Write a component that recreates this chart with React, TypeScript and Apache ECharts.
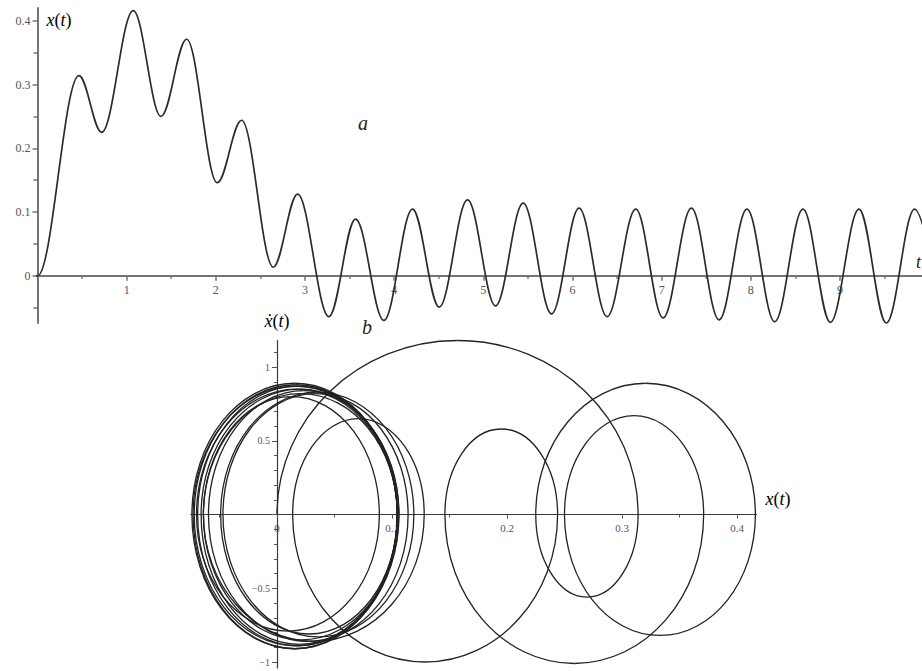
import React, { useEffect, useRef } from 'react';
import * as echarts from 'echarts';

// Panel a: successive extrema of x(t) (first entry = rest state before t = 0)
const tExtrema = [-0.5, 0, 0.465, 0.72, 1.074, 1.385, 1.673, 2.016, 2.289, 2.644, 2.917, 3.268, 3.567, 3.885, 4.206, 4.505, 4.823, 5.137, 5.447, 5.765, 6.074, 6.388, 6.71, 7.016, 7.334, 7.644, 7.957, 8.268, 8.585, 8.892, 9.213, 9.52, 9.837, 10.15];
const xExtrema = [0, 0, 0.314, 0.225, 0.416, 0.25, 0.371, 0.146, 0.244, 0.0136, 0.128, -0.064, 0.089, -0.07, 0.1046, -0.049, 0.119, -0.047, 0.114, -0.0596, 0.106, -0.064, 0.1046, -0.066, 0.106, -0.069, 0.1046, -0.072, 0.1046, -0.073, 0.1046, -0.074, 0.1046, -0.075];

// Panel b: peak velocity of each half-loop between consecutive extrema (from t = 0)
const vPeaks = [1.18, -0.56, 0.89, -0.82, 0.67, -1.01, 0.58, -1.0, 0.65, -0.86, 0.8, -0.79, 0.85, -0.81, 0.83, -0.83, 0.82, -0.86, 0.84, -0.85, 0.82, -0.88, 0.85, -0.89, 0.87, -0.89, 0.88, -0.91, 0.87, -0.91, 0.89];

// Tick labels
const tTicks = [1, 2, 3, 4, 5, 6, 7, 8, 9];
const xTicksA = [0, 0.1, 0.2, 0.3, 0.4];
const phaseXTicks = [0, 0.1, 0.2, 0.3, 0.4];
const phaseYLabels = [-1, -0.5, 0.5, 1];
const phaseYTicks = [-1, -0.5, 0, 0.5, 1];

const SERIF = "'Liberation Serif', 'DejaVu Serif', 'Times New Roman', serif";
const fmt = (v: number) => String(v).replace('-', '\u2212');

export default function App() {
  const ref = useRef<HTMLDivElement>(null);
  useEffect(() => {
    const chart = echarts.init(ref.current as HTMLDivElement, null, { renderer: 'svg' });
    const timeData = tExtrema.map((t, i) => [t, xExtrema[i]]);
    const loops = vPeaks.map((v, i) => [xExtrema[i + 1], xExtrema[i + 2], v]);

    const axisA = { color: '#747474', width: 2 };
    const axisB = { color: '#3a3a3a', width: 1.2 };
    const labelA = { fontFamily: SERIF, fontSize: 12, color: '#555' };
    const labelB = { fontFamily: SERIF, fontSize: 10, color: '#555' };

    const rich = {
      i: { fontFamily: SERIF, fontStyle: 'italic', fontSize: 18, color: '#222' },
      n: { fontFamily: SERIF, fontSize: 18, color: '#222' },
    };

    // grid geometry (layout only)
    const gA = { left: 37.5, top: 8, width: 884.5, height: 315 };
    const gB = { left: 190.75, top: 340.5, width: 565.8, height: 327.4 };
    const yMinA = -0.074, yMaxA = 0.42;
    const xMinB = -0.075, xMaxB = 0.417;
    const yMinB = -1.04, yMaxB = 1.18;
    // offsets so the axes cross at zero
    const offXA = -(gA.height * (0 - yMinA)) / (yMaxA - yMinA);
    const offXB = -(gB.height * (0 - yMinB)) / (yMaxB - yMinB);
    const offYB = -(gB.width * (0 - xMinB)) / (xMaxB - xMinB);

    const option: any = {
      animation: false,
      backgroundColor: '#fff',
      grid: [gA, gB],
      xAxis: [
        {
          gridIndex: 0, type: 'value', min: 0, max: 9.92, interval: 1, position: 'bottom', offset: offXA,
          axisLine: { onZero: false, lineStyle: axisA },
          axisTick: { customValues: tTicks, length: 5, lineStyle: { color: '#747474', width: 1.5 } },
          minorTick: { show: true, splitNumber: 2, length: 3, lineStyle: { color: '#747474', width: 1.5 } },
          axisLabel: { customValues: tTicks, margin: 8, ...labelA },
          splitLine: { show: false },
        },
        {
          gridIndex: 1, type: 'value', min: xMinB, max: xMaxB, position: 'bottom', offset: offXB,
          axisLine: { onZero: false, lineStyle: axisB },
          axisTick: { customValues: phaseXTicks, length: 4, lineStyle: { color: '#555', width: 1 } },
          minorTick: { show: true, splitNumber: 2, length: 3, lineStyle: { color: '#555', width: 1 } },
          axisLabel: { customValues: phaseXTicks, margin: 8, ...labelB, fontSize: 11, formatter: fmt },
          splitLine: { show: false },
        },
      ],
      yAxis: [
        {
          gridIndex: 0, type: 'value', min: yMinA, max: yMaxA, position: 'left',
          axisLine: { onZero: false, lineStyle: axisA },
          axisTick: { customValues: xTicksA, length: 5, lineStyle: { color: '#747474', width: 1.5 } },
          minorTick: { show: true, splitNumber: 2, length: 4, lineStyle: { color: '#747474', width: 1.5 } },
          axisLabel: { customValues: xTicksA, margin: 7, ...labelA },
          splitLine: { show: false },
        },
        {
          gridIndex: 1, type: 'value', min: yMinB, max: yMaxB, position: 'left', offset: offYB,
          axisLine: { onZero: false, lineStyle: axisB },
          axisTick: { customValues: phaseYTicks, length: 5, lineStyle: { color: '#555', width: 1 } },
          minorTick: { show: true, splitNumber: 5, length: 3, lineStyle: { color: '#555', width: 1 } },
          axisLabel: { customValues: phaseYLabels, margin: 7, ...labelB, formatter: fmt },
          splitLine: { show: false },
        },
      ],
      series: [
        {
          type: 'line', xAxisIndex: 0, yAxisIndex: 0,
          data: timeData, smooth: 0.36, smoothMonotone: 'x',
          showSymbol: false, symbol: 'none', clip: true,
          lineStyle: { color: '#2b2b2b', width: 1.7 }, z: 3,
        },
        {
          type: 'custom', coordinateSystem: 'cartesian2d', xAxisIndex: 1, yAxisIndex: 1,
          data: loops, encode: { x: [0, 1], y: 2 }, z: 3,
          renderItem: (params: any, api: any) => {
            const x0 = api.value(0), x1 = api.value(1), v = api.value(2);
            const a = api.coord([x0, 0]);
            const m = api.coord([(x0 + x1) / 2, v]);
            const b = api.coord([x1, 0]);
            const k = 0.5523;
            const style = { stroke: '#222', lineWidth: 1.3, fill: 'none' };
            return {
              type: 'group',
              children: [
                {
                  type: 'bezierCurve',
                  shape: { x1: a[0], y1: a[1], x2: m[0], y2: m[1], cpx1: a[0], cpy1: a[1] + k * (m[1] - a[1]), cpx2: m[0] - k * (m[0] - a[0]), cpy2: m[1] },
                  style,
                },
                {
                  type: 'bezierCurve',
                  shape: { x1: m[0], y1: m[1], x2: b[0], y2: b[1], cpx1: m[0] + k * (b[0] - m[0]), cpy1: m[1], cpx2: b[0], cpy2: b[1] + k * (m[1] - b[1]) },
                  style,
                },
              ],
            };
          },
        },
      ],
      graphic: [
        { type: 'text', x: 59, y: 20, style: { text: '{i|x}{n|(}{i|t}{n|)}', rich, align: 'center', verticalAlign: 'middle' } },
        { type: 'text', x: 916, y: 262, style: { text: 't', font: `italic 18px ${SERIF}`, fill: '#222', align: 'left', verticalAlign: 'middle' } },
        { type: 'text', x: 363, y: 123, style: { text: 'a', font: `italic 20px ${SERIF}`, fill: '#222', align: 'center', verticalAlign: 'middle' } },
        { type: 'text', x: 367, y: 327, style: { text: 'b', font: `italic 20px ${SERIF}`, fill: '#222', align: 'center', verticalAlign: 'middle' } },
        { type: 'text', x: 277, y: 321, style: { text: '{i|\u1E8B}{n|(}{i|t}{n|)}', rich, align: 'center', verticalAlign: 'middle' } },
        { type: 'text', x: 778, y: 499, style: { text: '{i|x}{n|(}{i|t}{n|)}', rich, align: 'center', verticalAlign: 'middle' } },
      ],
    };
    chart.setOption(option);
    return () => chart.dispose();
  }, []);
  return <div ref={ref} style={{ position: 'absolute', left: 0, top: 0, width: 922, height: 671, background: '#fff' }} />;
}
